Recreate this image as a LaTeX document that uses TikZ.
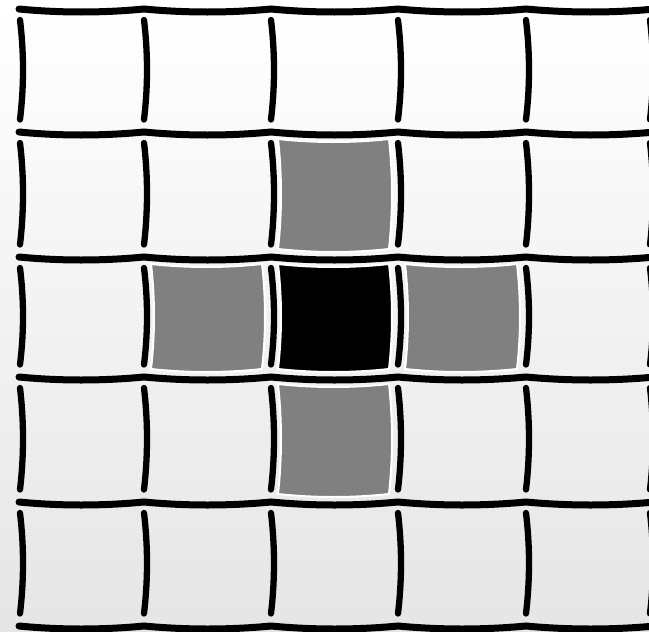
\documentclass[tikz,border=0pt]{standalone}
\usetikzlibrary{calc}
\tikzset{
  hline/.style={line width=7pt, black, line cap=round},
  vline/.style={line width=6.3pt, black, line cap=round},
  cellbox/.style={draw=white, line width=2pt}
}
\newcommand\resFillCell[5]{%
  \filldraw[cellbox, fill=#5] (#1,#3)
    .. controls ({#1+(#2-#1)/3},{#3+4}) and ({#2-(#2-#1)/3},{#3+4}) .. (#2,#3)
    .. controls ({#2+4},{#3+(#4-#3)/3}) and ({#2+4},{#4-(#4-#3)/3}) .. (#2,#4)
    .. controls ({#2-(#2-#1)/3},{#4+4}) and ({#1+(#2-#1)/3},{#4+4}) .. (#1,#4)
    .. controls ({#1+4},{#4-(#4-#3)/3}) and ({#1+4},{#3+(#4-#3)/3}) .. cycle;}
\begin{document}
\begin{tikzpicture}[x=1pt,y=-1pt]
  \useasboundingbox (0,0) rectangle (649,632);
  \shade[top color=white, bottom color=black!10] (0,0) rectangle (649,632);
  % filled cells
  \resFillCell{278}{389}{139}{249}{black!50}
  \resFillCell{151}{262}{264}{369}{black!50}
  \resFillCell{278}{389}{264}{369}{black}
  \resFillCell{405}{517}{264}{369}{black!50}
  \resFillCell{278}{389}{384}{494}{black!50}
  % horizontal wavy lines
  \foreach \y in {9,132,257,377,502,626}{
    \draw[hline] (19,\y)
      .. controls (60,{\y+4}) and (102,{\y+4}) .. (144,\y)
      .. controls (186,{\y+4}) and (229,{\y+4}) .. (271,\y)
      .. controls (313,{\y+4}) and (356,{\y+4}) .. (398,\y)
      .. controls (441,{\y+4}) and (483,{\y+4}) .. (526,\y)
      .. controls (569,{\y+4}) and (612,{\y+4}) .. (655,\y);
  }
  % vertical bowed segments
  \foreach \yt/\yb in {9/132,132/257,257/377,377/502,502/626}{
    \foreach \x in {20,144,271,398,526,650}{
      \draw[vline] (\x,{\yt+11})
        .. controls ({\x+4},{\yt+11+(\yb-\yt-23.5)/3}) and ({\x+4},{\yb-12.5-(\yb-\yt-23.5)/3}) .. (\x,{\yb-12.5});
    }
  }
\end{tikzpicture}
\end{document}
